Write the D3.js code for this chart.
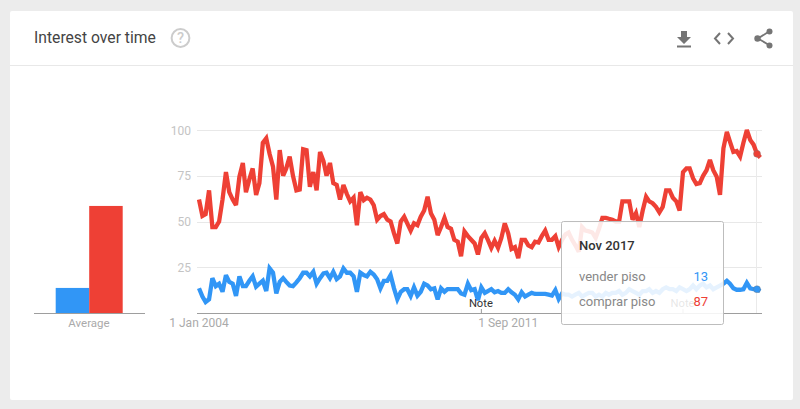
<!DOCTYPE html>
<html>
<head>
<meta charset="utf-8">
<script src="https://cdn.jsdelivr.net/npm/d3@7"></script>
<style>
  html, body { margin: 0; padding: 0; background: #ececec; overflow: hidden; }
  text { font-family: Roboto, sans-serif; }
</style>
</head>
<body>
<div id="chart"></div>
<script>
const seriesNames = ["vender piso", "comprar piso"];
const seriesColors = ["#3196f6", "#ee4035"];
const averages = [13.7, 58.5];
const yTicks = [25, 50, 75, 100];
const xTickLabels = [["1 Jan 2004", 2004, 0], ["1 Sep 2011", 2011, 8]];
const noteDates = [[2011, 0], [2016, 0]];

// monthly values from Jan 2004
const venderPiso = [
  13.5, 9, 6, 7.5, 19, 14.7, 16, 11.6, 20.7, 17, 16, 9.3, 20, 14.7, 14.7, 17.6, 20, 14.4, 16, 17.6,
  12, 24.4, 22, 10.7, 17, 19, 17, 15, 14.7, 16.7, 19, 22, 22, 20, 22.5, 16, 19, 21.6, 22, 19,
  22.5, 18.5, 20, 24.4, 22, 22, 20, 11.6, 22, 20.7, 20, 22.5, 21, 18.4, 13.5, 17.6, 17.6, 20.7, 13.5, 7.5,
  11.6, 13, 13, 9.3, 14, 9.5, 11.6, 16, 15, 13, 13.5, 7.5, 13.5, 11.6, 13, 13, 13, 13, 10.7, 10,
  16, 12.5, 13, 7, 14, 11, 12, 13, 11.3, 12, 11, 11, 13, 11.3, 10, 7.5, 11.3, 9, 10, 11,
  10.4, 10.4, 10.4, 10.4, 10, 9.5, 12.5, 7.6, 10.7, 10, 10, 9, 10, 11, 9, 10, 11, 11, 9, 10,
  9, 11, 10, 11, 11, 12, 10, 11, 13, 12, 11, 10, 12, 12, 13, 11, 12, 11, 13, 14,
  13, 13, 12, 14, 13, 12, 13, 15, 13, 15, 16, 14, 15, 13, 14, 15, 16, 17.6, 16, 13.5,
  12.7, 12.7, 13, 16.5, 13.5, 13, 13, 12
];
const comprarPiso = [
  62, 53, 54, 67, 47, 47, 50, 62, 77, 66, 62, 59, 74.5, 82, 66, 73, 79, 64.5, 71, 93,
  95.5, 87, 80, 62, 89, 75, 79, 85.5, 75, 67, 67.5, 89.5, 89, 69, 77, 67, 88, 83, 75, 82,
  71, 70, 62, 70, 65, 61, 63, 48, 66, 61.7, 63, 62, 59, 51, 53, 54, 51, 50, 43.5, 38,
  50, 52.6, 49, 45, 49, 48, 52.6, 56, 63.5, 54.5, 51, 42.6, 47, 52, 47, 46, 40, 39, 31, 44.5,
  42, 40, 38, 32, 41, 43.6, 40, 35.6, 39.5, 35.6, 41, 49, 43.6, 35, 36, 30, 40, 40, 37, 36,
  39, 38.5, 42, 45, 40, 40, 42, 36, 40, 43, 44, 40, 37, 33.5, 47, 45, 44.6, 44, 41, 46,
  52, 52, 51.5, 51, 50, 50, 61, 61, 61, 51, 54.6, 47, 56, 63.5, 61, 60, 58, 55, 58, 67,
  67, 63, 61, 56, 77, 79, 79, 73.6, 70.5, 71, 75, 78, 83.6, 78, 74.5, 64.5, 90, 99, 93.6, 88,
  88.5, 85.5, 93, 100, 94.5, 92, 87, 85
];
const series = [venderPiso, comprarPiso];

const tooltipTitle = "Nov 2017";
const tooltipValues = [13, 87];
const hoverIndex = 166;

const width = 800, height = 409;
const start = new Date(Date.UTC(2004, 0, 1));
const monthDate = i => d3.utcMonth.offset(start, i);

const svg = d3.select("#chart").append("svg")
  .attr("width", width).attr("height", height)
  .style("display", "block");

// card
svg.append("rect").attr("x", 10).attr("y", 11).attr("width", 783).attr("height", 389)
  .attr("rx", 2).attr("fill", "#fff");
svg.append("line").attr("x1", 10).attr("x2", 793).attr("y1", 65.5).attr("y2", 65.5)
  .attr("stroke", "#e8e8e8");

// header
svg.append("text").attr("x", 34).attr("y", 43).attr("font-size", 15.7)
  .attr("fill", "#444").text("Interest over time");
svg.append("circle").attr("cx", 180.5).attr("cy", 38).attr("r", 8.9)
  .attr("fill", "none").attr("stroke", "#ccc").attr("stroke-width", 2);
svg.append("text").attr("x", 180.5).attr("y", 43).attr("text-anchor", "middle")
  .attr("font-size", 14.5).attr("font-weight", 500).attr("fill", "#ccc").text("?");

const iconColor = "#757575";
svg.append("path").attr("fill", iconColor)
  .attr("d", "M681 31h6v6h4l-7 7-7-7h4z M677 45.5h14v2h-14z");
svg.append("path").attr("fill", "none").attr("stroke", iconColor).attr("stroke-width", 2)
  .attr("d", "M720 33l-5 5.5 5 5.5 M728 33l5 5.5-5 5.5");
svg.append("path").attr("fill", "none").attr("stroke", iconColor).attr("stroke-width", 1.8)
  .attr("d", "M769 31.5l-11 7 11 6.5");
[[769.5, 31.5, 3], [757.5, 38.5, 3.2], [769.5, 45.5, 3]].forEach(c => {
  svg.append("circle").attr("cx", c[0]).attr("cy", c[1]).attr("r", c[2]).attr("fill", iconColor);
});

// scales
const x = d3.scaleUtc().domain([start, monthDate(hoverIndex)]).range([199, 757]);
const y = d3.scaleLinear().domain([0, 100]).range([313, 130]);

// average bars
const xBar = d3.scaleBand().domain(seriesNames).range([55.7, 122.7]);
svg.selectAll("rect.avg").data(averages).join("rect").attr("class", "avg")
  .attr("x", (d, i) => xBar(seriesNames[i])).attr("width", xBar.bandwidth())
  .attr("y", d => y(d)).attr("height", d => y(0) - y(d))
  .attr("fill", (d, i) => seriesColors[i]);
svg.append("line").attr("x1", 34).attr("x2", 145).attr("y1", 313.5).attr("y2", 313.5)
  .attr("stroke", "#9e9e9e");
svg.append("text").attr("x", 89).attr("y", 327).attr("text-anchor", "middle")
  .attr("font-size", 11.5).attr("fill", "#aaa").text("Average");

// grid and y labels
svg.selectAll("line.grid").data(yTicks).join("line").attr("class", "grid")
  .attr("x1", 197).attr("x2", 762)
  .attr("y1", d => Math.round(y(d)) + 0.5).attr("y2", d => Math.round(y(d)) + 0.5)
  .attr("stroke", "#e8e8e8");
svg.selectAll("text.ylab").data(yTicks).join("text").attr("class", "ylab")
  .attr("x", 191).attr("y", d => y(d) + 4.5).attr("text-anchor", "end")
  .attr("font-size", 12).attr("fill", "#c4c4c4").text(d => d);

svg.append("line").attr("x1", x(monthDate(hoverIndex)) - 0.5).attr("x2", x(monthDate(hoverIndex)) - 0.5)
  .attr("y1", 130).attr("y2", 313).attr("stroke", "#eaeaea");

// x axis
svg.append("line").attr("x1", 197).attr("x2", 762).attr("y1", 313.5).attr("y2", 313.5)
  .attr("stroke", "#9e9e9e");
svg.selectAll("text.xlab").data(xTickLabels).join("text").attr("class", "xlab")
  .attr("x", d => x(new Date(Date.UTC(d[1], d[2], 1)))).attr("y", 327)
  .attr("text-anchor", "middle").attr("font-size", 12).attr("fill", "#aaa").text(d => d[0]);

// lines
const line = d3.line().x((d, i) => x(monthDate(i))).y(d => y(d));
svg.selectAll("path.series").data(series).join("path").attr("class", "series")
  .attr("d", line).attr("fill", "none")
  .attr("stroke", (d, i) => seriesColors[i]).attr("stroke-width", 4.3)
  .attr("stroke-linejoin", "miter").attr("stroke-miterlimit", 3);

// notes
noteDates.forEach(d => {
  const nx = x(new Date(Date.UTC(d[0], d[1], 1)));
  svg.append("line").attr("x1", nx).attr("x2", nx).attr("y1", 309).attr("y2", 313)
    .attr("stroke", "#999");
  svg.append("text").attr("x", nx - 0.5).attr("y", 307).attr("text-anchor", "middle")
    .attr("font-size", 11.2).attr("fill", "#333").text("Note");
});

// hover dots
series.forEach((s, i) => {
  svg.append("circle").attr("cx", x(monthDate(hoverIndex))).attr("cy", y(s[hoverIndex])).attr("r", 3.5)
    .attr("fill", seriesColors[i]).attr("stroke", "#777").attr("stroke-opacity", 0.4);
});

// tooltip, see-through so the lines show faintly behind it
svg.append("rect").attr("x", 561.5).attr("y", 221.5).attr("width", 162).attr("height", 103)
  .attr("rx", 2).attr("fill", "#fff").attr("fill-opacity", 0.88)
  .attr("stroke", "#bdbdbd");
svg.append("text").attr("x", 579).attr("y", 250).attr("font-size", 13).attr("font-weight", 500)
  .attr("fill", "#333").text(tooltipTitle);
seriesNames.forEach((name, i) => {
  const rowY = 281 + i * 24.5;
  svg.append("text").attr("x", 579).attr("y", rowY).attr("font-size", 13).attr("fill", "#888").text(name);
  svg.append("text").attr("x", 708).attr("y", rowY).attr("text-anchor", "end").attr("font-size", 13)
    .attr("fill", seriesColors[i]).text(tooltipValues[i]);
});
</script>
</body>
</html>
